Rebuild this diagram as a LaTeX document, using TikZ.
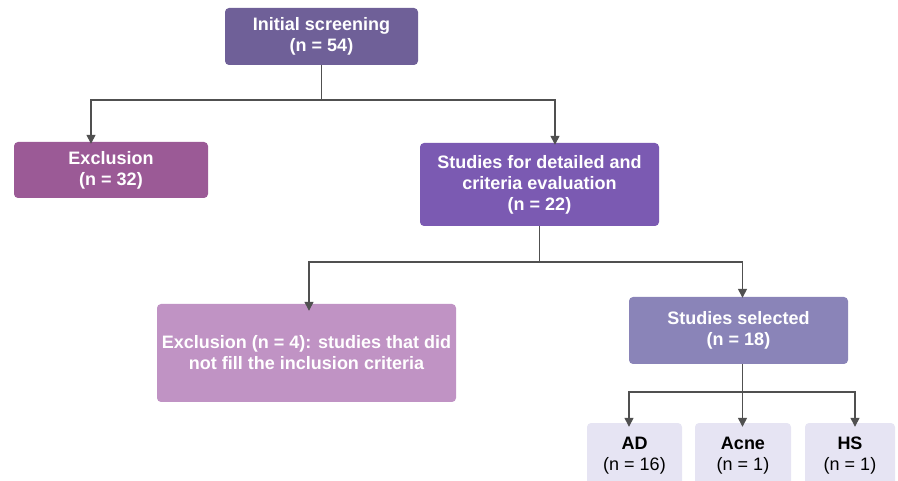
\documentclass[tikz,border=0pt]{standalone}
\usepackage{fontspec}
\setmainfont{Liberation Sans}
\usetikzlibrary{arrows.meta,positioning}
\definecolor{cTop}{RGB}{111,96,152}
\definecolor{cExcl}{RGB}{155,90,150}
\definecolor{cStud}{RGB}{123,90,178}
\definecolor{cExclB}{RGB}{192,147,196}
\definecolor{cSel}{RGB}{138,132,184}
\definecolor{cLeaf}{RGB}{230,228,243}
\definecolor{cLine}{RGB}{80,80,80}
\tikzset{
  box/.style={rounded corners=4pt, align=center, inner sep=0pt, text=white,
    font=\fontsize{18}{21}\selectfont\bfseries},
  leaf/.style={rounded corners=4pt, align=center, inner sep=0pt, fill=cLeaf,
    text=black, font=\fontsize{18}{21}\selectfont},
  conn/.style={draw=cLine, line width=1.4pt},
  arr/.style={conn, -{Triangle[width=9pt,length=9pt]}}
}
\begin{document}
\begin{tikzpicture}[x=1pt,y=-1pt]
\useasboundingbox (0,0) rectangle (898,481);
\clip (0,0) rectangle (898,481);
\node[box, fill=cTop, minimum width=193pt, minimum height=57pt] (top) at (321.5,36.5) {Initial screening\\(n = 54)};
\node[box, fill=cExcl, minimum width=194pt, minimum height=56pt] (excl) at (111,170) {Exclusion\\(n = 32)};
\node[box, fill=cStud, minimum width=239pt, minimum height=83pt] (stud) at (539.5,184.5) {Studies for detailed and\\criteria evaluation\\(n = 22)};
\node[box, fill=cExclB, minimum width=299pt, minimum height=98pt] (exclb) at (306.5,353) {Exclusion (n = 4): studies that did\\not fill the inclusion criteria};
\node[box, fill=cSel, minimum width=219pt, minimum height=67pt] (sel) at (738.5,330.5) {Studies selected\\(n = 18)};
\node[leaf, minimum width=95pt, minimum height=66pt] (ad) at (634.5,456) {\textbf{AD}\\(n = 16)};
\node[leaf, minimum width=96pt, minimum height=66pt] (acne) at (743,456) {\textbf{Acne}\\(n = 1)};
\node[leaf, minimum width=90pt, minimum height=66pt] (hs) at (850,456) {\textbf{HS}\\(n = 1)};
% connectors
\coordinate (j1) at (321.5,100);
\draw[conn] (top.south) -- (j1);
\draw[arr] (j1) -| ([xshift=-20pt,yshift=-2pt]excl.north);
\draw[arr] (j1) -| ([xshift=15.5pt,yshift=-2pt]stud.north);
\coordinate (j2) at (539.5,262);
\draw[conn] (stud.south) -- (j2);
\draw[arr] (j2) -| ([xshift=2.5pt,yshift=-7pt]exclb.north);
\draw[arr] (j2) -| ([xshift=4pt,yshift=-1pt]sel.north);
\coordinate (j3) at (742.5,392);
\draw[conn] ([xshift=4pt]sel.south) -- (j3);
\draw[arr] (j3) -| ([xshift=-5.5pt,yshift=-4pt]ad.north);
\draw[arr] (j3) -- ([xshift=-0.5pt,yshift=-4pt]acne.north);
\draw[arr] (j3) -| ([xshift=5pt,yshift=-4pt]hs.north);
\end{tikzpicture}
\end{document}
